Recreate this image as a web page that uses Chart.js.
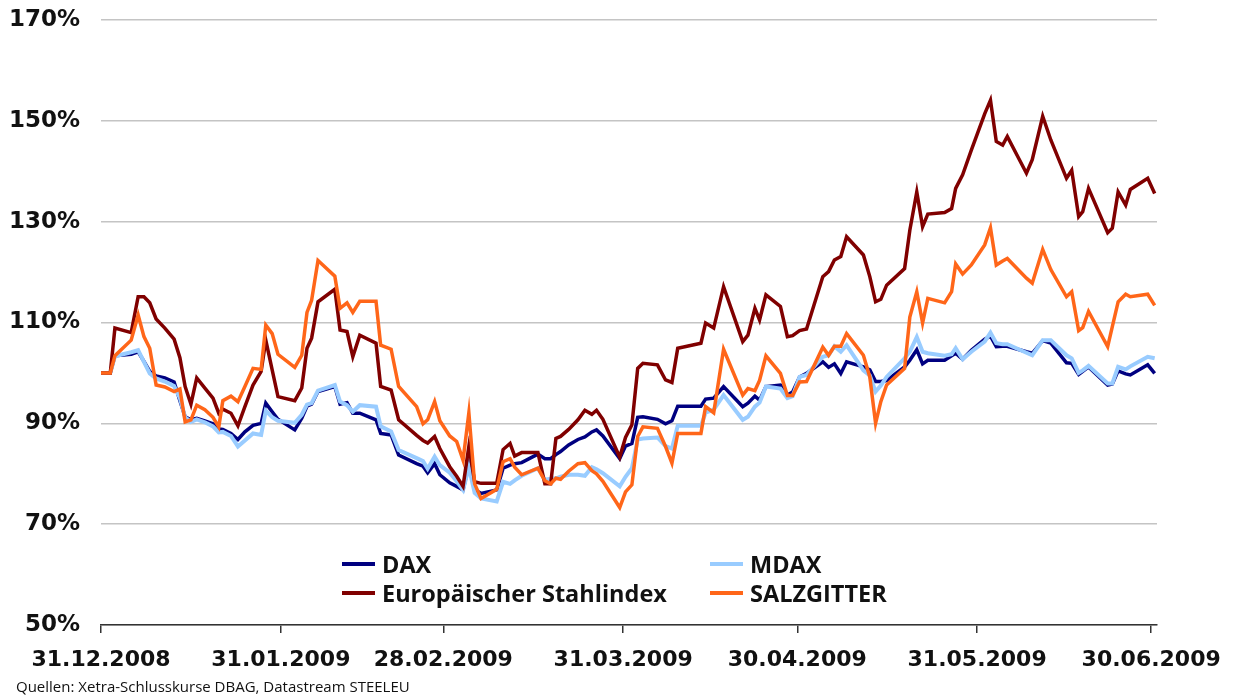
<!DOCTYPE html>
<html>
<head>
<meta charset="utf-8">
<script src="https://cdn.jsdelivr.net/npm/chart.js@4.4.0/dist/chart.umd.min.js"></script>
<style>
  body { margin: 0; background: #fff; }
  #wrap { position: relative; width: 1238px; height: 695px; }
  #source { position: absolute; left: 16px; top: 676px; font: 15px "Open Sans", sans-serif; color: #111; }
</style>
</head>
<body>
<div id="wrap">
  <canvas id="chart"></canvas>
  <div id="source">Quellen: Xetra-Schlusskurse DBAG, Datastream STEELEU</div>
</div>
<script>
// days after 31.12.2008
var days = [0, 1.6, 2.4, 5.2, 6.4, 7.4, 8.4, 9.5, 11.0, 12.6,
  13.6, 14.5, 15.5, 16.5, 17.9, 19.3, 20.3, 21.0, 22.4, 23.6,
  24.8, 26.2, 27.6, 28.4, 29.5, 30.5, 33.4, 34.6, 35.5, 36.3,
  37.4, 40.3, 41.2, 42.4, 43.4, 44.6, 47.4, 48.2, 50.0, 51.3,
  54.4, 55.5, 56.3, 57.5, 58.4, 60.1, 61.3, 62.4, 63.4, 64.4,
  65.5, 68.2, 69.3, 70.5, 71.3, 72.5, 75.3, 76.5, 77.5, 78.4,
  79.2, 80.6, 82.2, 83.4, 84.6, 85.4, 86.5, 89.4, 90.4, 91.5,
  92.5, 93.4, 95.9, 97.3, 98.4, 99.4, 103.4, 104.2, 105.6, 107.3,
  110.6, 111.5, 112.7, 113.5, 114.6, 117.1, 118.3, 119.2, 120.4, 121.6,
  124.4, 125.4, 126.4, 127.5, 128.5, 131.4, 132.5, 133.5, 134.4, 135.4,
  138.5, 139.4, 140.6, 141.6, 142.5, 145.4, 146.6, 147.3, 148.5, 150.0,
  152.3, 153.3, 154.3, 155.4, 156.2, 159.5, 160.5, 162.3, 163.7, 166.4,
  167.3, 168.5, 169.2, 170.2, 173.5, 174.3, 175.3, 176.6, 177.4, 180.4, 181.6];

var dax = [100, 100, 103.4, 103.7, 104.2, 102.3, 100.3, 99.4, 99, 98.2,
  94.5, 91.3, 90.7, 91, 90.5, 89.9, 88.9, 88.8, 88, 86.8,
  88.3, 89.6, 90, 94, 92.3, 90.8, 88.7, 91, 93.4, 93.8,
  96.3, 97.3, 93.8, 94.1, 92, 92, 90.7, 88, 87.7, 83.7,
  82, 81.5, 80.2, 82, 79.8, 78.2, 77.5, 76.8, 81.7, 76.9,
  76.1, 76.8, 81.1, 81.7, 82, 82.2, 83.9, 83, 83, 83.8,
  84.4, 85.7, 86.8, 87.3, 88.3, 88.7, 87.5, 83, 85.5, 86,
  91.2, 91.3, 90.8, 89.9, 90.5, 93.4, 93.4, 94.8, 95, 97.3,
  93.3, 94, 95.4, 94.6, 97.3, 97.6, 95.6, 96.2, 99.2, 99.9,
  102.2, 101.1, 101.8, 99.9, 102.2, 101.2, 100.6, 98.3, 98.3, 98.5,
  101.2, 102.5, 104.6, 101.8, 102.5, 102.5, 103.4, 103.9, 102.7, 104.5,
  106.7, 107.3, 105.2, 105.3, 105.3, 104.2, 103.9, 106.4, 105.9, 102,
  101.9, 99.7, 100.3, 101.2, 97.6, 97.8, 100.4, 99.8, 99.6, 101.6, 99.9];

var mdax = [100, 100, 103.3, 104.1, 104.5, 102.2, 99.9, 98.9, 98.3, 97.4,
  95, 91.2, 90.3, 90.8, 90.2, 89.4, 88.2, 88.3, 87.5, 85.4,
  86.6, 88, 87.7, 92.5, 91.2, 90.5, 90.1, 91.7, 93.7, 94,
  96.5, 97.6, 94.3, 93.6, 92.3, 93.6, 93.3, 89.4, 88.4, 84.7,
  83.1, 82.5, 81, 83.4, 81.7, 80.2, 78.5, 76.8, 81.3, 76.2,
  75.1, 74.5, 78.4, 78, 78.7, 79.6, 81.1, 78.8, 79, 79.1,
  79.4, 79.8, 79.8, 79.6, 81.3, 80.9, 80.1, 77.5, 79.4, 81.1,
  86.8, 87, 87.2, 85.5, 85, 89.5, 89.5, 92.1, 92.7, 95.6,
  90.7, 91.3, 93.3, 94.1, 97.3, 96.9, 95, 95.4, 99.2, 99.6,
  103.2, 103.5, 105.3, 104.2, 105.5, 100.5, 99.5, 96.3, 97.5, 99.2,
  102.9, 104.2, 107.1, 104.2, 103.9, 103.4, 103.7, 104.9, 102.7, 104.2,
  106.2, 108, 105.9, 105.7, 105.7, 104, 103.5, 106.5, 106.5, 103.5,
  102.9, 100, 100.5, 101.4, 97.9, 97.9, 101.2, 100.7, 101.3, 103.2, 102.9];

var stahl = [100, 100, 108.9, 108, 115.1, 115.1, 113.9, 110.7, 108.9, 106.7,
  103, 97.3, 93.8, 99, 97, 95, 92, 92.8, 92, 89.5,
  93.3, 97.6, 100.3, 106.5, 100.6, 95.3, 94.5, 97, 104.9, 106.9,
  114.1, 116.6, 108.5, 108.2, 103.2, 107.5, 105.9, 97.3, 96.6, 90.7,
  87.6, 86.6, 86.1, 87.4, 85, 81.4, 79.5, 77.5, 85.4, 78.4,
  78.1, 78.1, 84.8, 86, 83.5, 84.2, 84.2, 78, 78, 87,
  87.4, 88.8, 90.7, 92.6, 91.8, 92.6, 90.8, 83.3, 87.2, 89.7,
  100.9, 101.9, 101.6, 98.6, 98.1, 104.9, 105.9, 109.9, 108.9, 117.1,
  106.2, 107.5, 112.8, 110.5, 115.5, 113.2, 107.2, 107.4, 108.4, 108.7,
  119.1, 120.1, 122.4, 123.1, 127, 123.4, 119.1, 114.1, 114.6, 117.4,
  120.7, 128.3, 135.9, 129, 131.5, 131.8, 132.6, 136.6, 139.3, 144.2,
  151.4, 154.1, 145.9, 145.2, 146.9, 139.6, 142.3, 150.9, 146.2, 138.6,
  140.2, 131, 132, 136.6, 127.8, 128.7, 135.9, 133.3, 136.4, 138.6, 135.6];

var salzgitter = [100, 100, 103.4, 106.5, 111.5, 107.2, 104.9, 97.6, 97.2, 96.3,
  96.8, 90.3, 90.7, 93.6, 92.7, 91.2, 89.3, 94.5, 95.4, 94.3,
  97.3, 100.9, 100.7, 109.5, 107.8, 103.7, 101.1, 103.5, 112, 114.4,
  122.3, 119.2, 112.8, 113.9, 112, 114.2, 114.2, 105.5, 104.7, 97.3,
  93.3, 89.9, 90.7, 94.3, 90.5, 87.5, 86.4, 82.7, 92.1, 78,
  75.1, 76.9, 82.4, 83, 81.3, 79.8, 81.1, 78.6, 78, 79.1,
  78.9, 80.5, 82, 82.2, 80.6, 80, 78.5, 73.3, 76.4, 77.8,
  87.4, 89.3, 89, 85.4, 82.1, 88, 88, 93.3, 92.1, 104.7,
  95.6, 96.9, 96.5, 98.5, 103.4, 99.9, 95.5, 95.5, 98.2, 98.3,
  105.1, 103.5, 105.3, 105.3, 107.8, 103.5, 99.2, 90, 94.3, 97.6,
  100.9, 111.1, 116.1, 109.9, 114.8, 113.9, 116.1, 121.6, 119.6, 121.4,
  125.4, 128.8, 121.4, 122.2, 122.7, 118.8, 117.8, 124.5, 120.5, 115.1,
  116.1, 108.4, 109, 112.2, 105.2, 109.2, 114.1, 115.6, 115.1, 115.6, 113.4];

var seriesNames = ['DAX', 'MDAX', 'Europäischer Stahlindex', 'SALZGITTER'];
var tickDays = [0, 31, 59, 90, 120, 151, 181];
var tickLabels = ['31.12.2008', '31.01.2009', '28.02.2009', '31.03.2009', '30.04.2009', '31.05.2009', '30.06.2009'];

function pts(arr) {
  return days.map(function (d, i) { return { x: d, y: arr[i] }; });
}

// legend drawn inside the plot, two columns
var innerLegend = {
  id: 'innerLegend',
  afterDraw: function (chart) {
    var ctx = chart.ctx;
    var slots = [[342, 573], [710, 573], [342, 602], [710, 602]];
    chart.data.datasets.forEach(function (ds, i) {
      var x = slots[i][0], y = slots[i][1];
      ctx.save();
      ctx.strokeStyle = ds.borderColor;
      ctx.lineWidth = 4;
      ctx.beginPath();
      ctx.moveTo(x, y - 9);
      ctx.lineTo(x + 33, y - 9);
      ctx.stroke();
      ctx.fillStyle = '#111';
      ctx.font = 'bold 23.5px "Open Sans"';
      ctx.textBaseline = 'alphabetic';
      ctx.fillText(ds.label, x + 40, y);
      ctx.restore();
    });
  }
};

var colors = ['#000080', '#99ccff', '#800000', '#ff6619'];
var values = [dax, mdax, stahl, salzgitter];

const myChart = new Chart('chart', {
  type: 'line',
  data: {
    datasets: values.map(function (arr, i) {
      return {
        label: seriesNames[i],
        data: pts(arr),
        borderColor: colors[i],
        borderWidth: i == 1 ? 4 : 3.5,
        pointRadius: 0,
        tension: 0,
        fill: false,
        order: 4 - i
      };
    })
  },
  options: {
    responsive: true,
    maintainAspectRatio: false,
    animation: false,
    layout: { padding: { top: 20, right: 81, left: 0, bottom: 0 } },
    plugins: { legend: { display: false }, tooltip: { enabled: false } },
    scales: {
      x: {
        type: 'linear',
        min: 0,
        max: 182,
        afterFit: function (s) { s.height = 70; },
        afterBuildTicks: function (s) {
          s.ticks = tickDays.map(function (d) { return { value: d }; });
        },
        ticks: {
          autoSkip: false,
          maxRotation: 0,
          padding: 14,
          color: '#111',
          font: { family: 'DejaVu Sans', size: 22, weight: 'bold' },
          callback: function (v) { return tickLabels[tickDays.indexOf(v)]; }
        },
        grid: { drawOnChartArea: false, drawTicks: true, tickLength: 8, color: '#333', lineWidth: 1.5 },
        border: { color: '#333', width: 1.5 }
      },
      y: {
        min: 50,
        max: 170,
        afterFit: function (s) {
          s.width = 101;
          s.paddingTop = 0;
          s.paddingBottom = 0;
        },
        ticks: {
          stepSize: 20,
          padding: 21,
          color: '#111',
          font: { family: 'DejaVu Sans', size: 23, weight: 'bold' },
          callback: function (v) { return v + '%'; }
        },
        grid: { color: '#c4c4c4', lineWidth: 1.5, drawTicks: false },
        border: { display: false }
      }
    }
  },
  plugins: [innerLegend]
});
</script>
</body>
</html>
